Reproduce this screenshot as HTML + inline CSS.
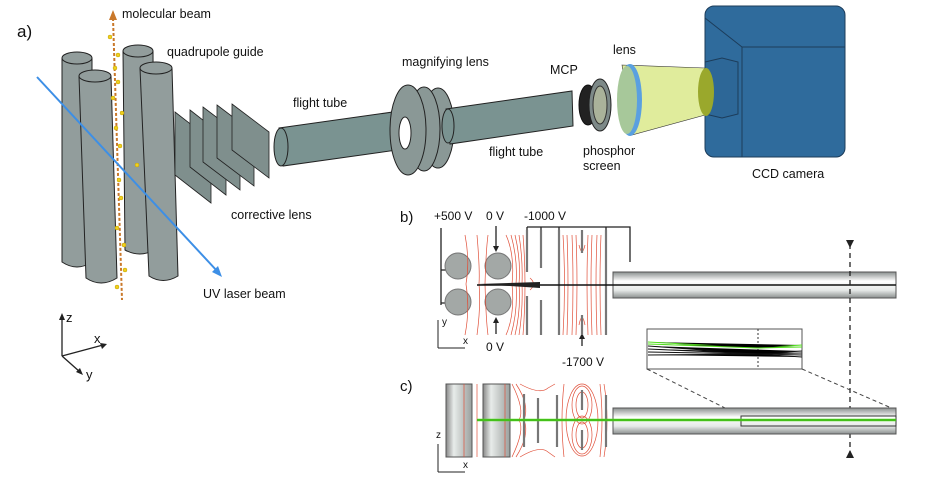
<!DOCTYPE html>
<html><head><meta charset="utf-8"><style>
html,body{margin:0;padding:0;background:#fff}
svg{display:block}
text{font-family:"Liberation Sans",sans-serif;fill:#111}
</style></head><body>
<svg width="927" height="482" viewBox="0 0 927 482" xmlns="http://www.w3.org/2000/svg">
<defs>
<linearGradient id="tg" x1="0" y1="0" x2="0" y2="1"><stop offset="0" stop-color="#8a8f8e"/><stop offset="0.35" stop-color="#fff"/><stop offset="0.7" stop-color="#e6e9e8"/><stop offset="1" stop-color="#8a8f8e"/></linearGradient>
<linearGradient id="cg" x1="0" y1="0" x2="1" y2="0"><stop offset="0" stop-color="#888"/><stop offset="0.3" stop-color="#e8ecea"/><stop offset="1" stop-color="#9aa09e"/></linearGradient>
</defs>

<text x="17" y="37" font-size="17">a)</text>
<g stroke="#222" stroke-width="1" fill="#929d9c">
<path d="M62 58 L62 262 Q77 272 92 262 L92 58 Z"/><ellipse cx="77" cy="58" rx="15" ry="6"/>
<path d="M123 51 L125 250 Q140 258 154 250 L153 51 Z"/><ellipse cx="138" cy="51" rx="15" ry="6"/>
<path d="M79 76 L86 278 Q101 288 117 278 L111 76 Z"/><ellipse cx="95" cy="76" rx="16" ry="6"/>
<path d="M140 68 L149 276 Q163 285 178 276 L172 68 Z"/><ellipse cx="156" cy="68" rx="16" ry="6"/>
</g>
<line x1="113" y1="18" x2="122" y2="300" stroke="#c9782a" stroke-width="2" stroke-dasharray="3,2"/>
<path d="M113 10 L109 20 L117 20 Z" fill="#c9782a"/>
<g fill="#f0d020" stroke="#c0a000" stroke-width="0.5">
<circle cx="110" cy="37" r="2"/><circle cx="118" cy="55" r="2"/><circle cx="115" cy="68" r="2"/><circle cx="118" cy="82" r="2"/><circle cx="113" cy="98" r="2"/><circle cx="122" cy="113" r="2"/><circle cx="116" cy="128" r="2"/><circle cx="120" cy="146" r="2"/><circle cx="137" cy="165" r="2"/><circle cx="119" cy="180" r="2"/><circle cx="121" cy="198" r="2"/><circle cx="117" cy="228" r="2"/><circle cx="124" cy="245" r="2"/><circle cx="125" cy="270" r="2"/><circle cx="117" cy="287" r="2"/>
</g>
<line x1="37" y1="77" x2="218" y2="272" stroke="#3d8fe6" stroke-width="2"/>
<path d="M222 277 L212 272 L218 266 Z" fill="#3d8fe6"/>
<g stroke="#222" stroke-width="0.8" fill="#7f8f8d">
<path d="M175 112 L211 140 L211 203 L175 175 Z"/>
<path d="M190 110 L226 138 L226 195 L190 167 Z"/>
<path d="M203 107 L240 135 L240 190 L203 162 Z"/>
<path d="M217 105 L254 133 L254 186 L217 158 Z"/>
<path d="M232 104 L269 132 L269 178 L232 150 Z"/>
</g>
<path d="M279 128 L393 112 L397 150 L283 166 Z" fill="#7a9391" stroke="#222"/>
<ellipse cx="281" cy="147" rx="7" ry="19" fill="#7a9391" stroke="#222"/>
<g stroke="#222" fill="#8a9896">
<ellipse cx="438" cy="128" rx="16" ry="40"/>
<ellipse cx="424" cy="129" rx="16" ry="42"/>
<ellipse cx="408" cy="130" rx="18" ry="45"/>
<ellipse cx="405" cy="133" rx="6" ry="16" fill="#fff"/>
</g>
<path d="M446 109 L572 91 L573 126 L450 144 Z" fill="#7a9391" stroke="#222"/>
<ellipse cx="448" cy="126" rx="6" ry="17" fill="#7a9391" stroke="#222"/>
<ellipse cx="588" cy="105" rx="9" ry="20" fill="#222" stroke="#111"/>
<ellipse cx="600" cy="105" rx="11" ry="26" fill="#7d8988" stroke="#222"/>
<ellipse cx="600" cy="105" rx="7" ry="19" fill="#aab29a" stroke="#333"/>
<path d="M622 65 L705 68 L705 115 L632 135 Z" fill="#e0ec9c" stroke="#333" stroke-width="0.6"/>
<ellipse cx="630" cy="100" rx="12" ry="36" fill="#5aa0e0"/>
<ellipse cx="627" cy="100" rx="10" ry="34" fill="#a7c89a"/>
<!-- camera -->
<rect x="705" y="6" width="140" height="151" rx="9" fill="#2f6b9c" stroke="#1c3c5a"/>
<path d="M742 47 L742 157 M742 47 L845 47 M705 18 L742 47" stroke="#1c3c5a" fill="none"/>
<path d="M705 62 L722 58 L738 62 L738 114 L722 118 L705 114 Z" fill="#2d6797" stroke="#1c3c5a"/>
<ellipse cx="706" cy="92" rx="8" ry="24" fill="#9aa82c"/>
<g font-size="12.5">
<text x="122" y="18">molecular beam</text>
<text x="167" y="56">quadrupole guide</text>
<text x="293" y="107">flight tube</text>
<text x="402" y="66">magnifying lens</text>
<text x="550" y="74">MCP</text>
<text x="613" y="54">lens</text>
<text x="489" y="156">flight tube</text>
<text x="583" y="155">phosphor</text>
<text x="583" y="170">screen</text>
<text x="752" y="178">CCD camera</text>
<text x="231" y="219">corrective lens</text>
<text x="203" y="298">UV laser beam</text>
</g>
<g stroke="#222" stroke-width="1.3" fill="none">
<path d="M62 356 L62 318"/><path d="M62 356 L103 345"/><path d="M62 356 L80 372"/>
</g>
<path d="M62 313 L59 320 L65 320 Z M107 344 L100 343 L102 349 Z M83 375 L76 372 L80 368 Z" fill="#222"/>
<g font-size="13"><text x="66" y="322">z</text><text x="94" y="343">x</text><text x="86" y="379">y</text></g>

<text x="400" y="222" font-size="15">b)</text>
<g font-size="12"><text x="434" y="220">+500 V</text><text x="486" y="220">0 V</text><text x="524" y="220">-1000 V</text><text x="486" y="351">0 V</text><text x="562" y="366">-1700 V</text></g>
<g stroke="#222" stroke-width="1.3" fill="none">
<path d="M441 228 L441 305 M441 270 L446 270 M441 303 L446 303"/>
<path d="M496 226 L496 248"/><path d="M496 334 L496 322"/><path d="M582 346 L582 338"/>
<path d="M527 227 L630 227 L630 262 M527 227 L527 231 M541 227 L541 231 M559 227 L559 231 M606 227 L606 231"/>
</g>
<path d="M493 246 L499 246 L496 252 Z M493 323 L499 323 L496 317 Z M579 339 L585 339 L582 333 Z" fill="#222"/>
<g fill="#a3a8a6" stroke="#777"><circle cx="458" cy="266" r="13"/><circle cx="498" cy="266" r="13"/><circle cx="458" cy="302" r="13"/><circle cx="498" cy="302" r="13"/></g>
<g stroke="#e0503a" stroke-width="0.7" fill="none">
<path d="M465 235 Q470 260 466 284 Q470 310 465 335"/><path d="M477 235 Q480 270 479 284 Q481 305 477 335"/>
<path d="M488 235 Q486 250 485 284 Q486 320 488 335"/>
<path d="M506 235 Q515 255 512 284 Q515 315 506 335"/><path d="M511 235 Q518 260 516 284 Q518 310 511 335"/>
<path d="M515 235 Q521 260 519 284 Q521 310 515 335"/><path d="M519 235 Q523 260 522 284 Q523 310 519 335"/><path d="M523 235 Q525 260 525 284 Q525 310 523 335"/>
<path d="M530 278 Q537 284 530 290"/>
<path d="M563 235 Q566 284 563 335"/><path d="M567 235 Q569 284 567 335"/><path d="M572 235 Q574 284 572 335"/><path d="M576 235 Q578 284 576 335"/>
<path d="M588 235 Q586 284 588 335"/><path d="M592 235 Q590 284 592 335"/><path d="M597 235 Q595 284 597 335"/><path d="M601 235 Q599 284 601 335"/>
<path d="M579 245 Q582 258 585 245"/><path d="M579 325 Q582 310 585 325"/>
</g>
<g stroke="#777" stroke-width="2.2">
<path d="M527 230 L527 272 M527 296 L527 335"/><path d="M541 230 L541 268 M541 300 L541 335"/>
<path d="M559 230 L559 335"/><path d="M582 230 L582 253 M582 315 L582 335"/><path d="M606 230 L606 335"/>
</g>
<rect x="613" y="272" width="283" height="26" fill="url(#tg)" stroke="#555"/>
<path d="M477 285 L896 285" stroke="#111" stroke-width="1.5"/>
<path d="M478 284 L540 282 L540 288 Z" fill="#222"/>
<g stroke="#222" fill="none"><path d="M438 348 L438 320 M438 348 L465 348"/></g>
<g font-size="10"><text x="442" y="325">y</text><text x="463" y="344">x</text></g>
<path d="M850 244 L850 452" stroke="#222" stroke-width="1.3" stroke-dasharray="5,4"/>
<path d="M846 240 L854 240 L850 248 Z M846 458 L854 458 L850 450 Z" fill="#222"/>
<rect x="647" y="329" width="155" height="40" fill="#fff" stroke="#555"/>
<path d="M758 329 L758 369" stroke="#333" stroke-dasharray="2,2"/>
<g stroke="#55e020" stroke-width="1"><path d="M648 342 L758 348 L802 345"/><path d="M648 344 L758 348 L802 347"/></g>
<g stroke="#111" stroke-width="0.9"><path d="M648 346 L758 354 L802 351"/><path d="M648 349 L758 354 L802 353"/><path d="M648 352 L758 354 L802 355"/><path d="M648 355 L758 354 L802 357"/></g>
<g stroke="#444" stroke-dasharray="4,3"><path d="M647 369 L741 416"/><path d="M802 369 L896 410"/></g>

<text x="400" y="391" font-size="15">c)</text>
<rect x="446" y="384" width="26" height="73" fill="url(#cg)" stroke="#555"/>
<rect x="483" y="384" width="27" height="73" fill="url(#cg)" stroke="#555"/>
<g stroke="#e0503a" stroke-width="0.7" fill="none">
<path d="M464 384 L464 457"/><path d="M477 384 L477 457"/><path d="M505 384 L505 457"/>
<path d="M512 384 Q525 410 519 420 Q525 430 512 457"/><path d="M516 384 Q530 405 524 420 Q530 435 516 457"/>
<path d="M520 384 Q540 395 548 388 L555 384"/><path d="M520 457 Q540 445 548 452 L555 457"/>
<ellipse cx="582" cy="405" rx="6" ry="13"/><ellipse cx="582" cy="405" rx="10" ry="19"/><ellipse cx="582" cy="435" rx="6" ry="13"/><ellipse cx="582" cy="435" rx="10" ry="19"/>
<ellipse cx="582" cy="420" rx="16" ry="36"/>
<path d="M564 384 Q560 420 564 457"/><path d="M600 384 Q604 420 600 457"/><path d="M604 384 Q610 420 604 457"/>
</g>
<g stroke="#777" stroke-width="2.2">
<path d="M524 394 L524 447"/><path d="M538 398 L538 443"/><path d="M557 395 L557 447"/><path d="M582 390 L582 410 M582 430 L582 450"/><path d="M606 395 L606 447"/>
</g>
<rect x="613" y="408" width="283" height="26" fill="url(#tg)" stroke="#555"/>
<rect x="741" y="416" width="155" height="10" fill="none" stroke="#333"/>
<path d="M477 420 L896 420" stroke="#55e020" stroke-width="2.5"/>
<path d="M477 420 L896 420" stroke="#2a8a10" stroke-width="0.7"/>
<g stroke="#222" fill="none"><path d="M438 472 L438 444 M438 472 L465 472"/></g>
<g font-size="10"><text x="436" y="438">z</text><text x="463" y="468">x</text></g>
</svg>
</body></html>
